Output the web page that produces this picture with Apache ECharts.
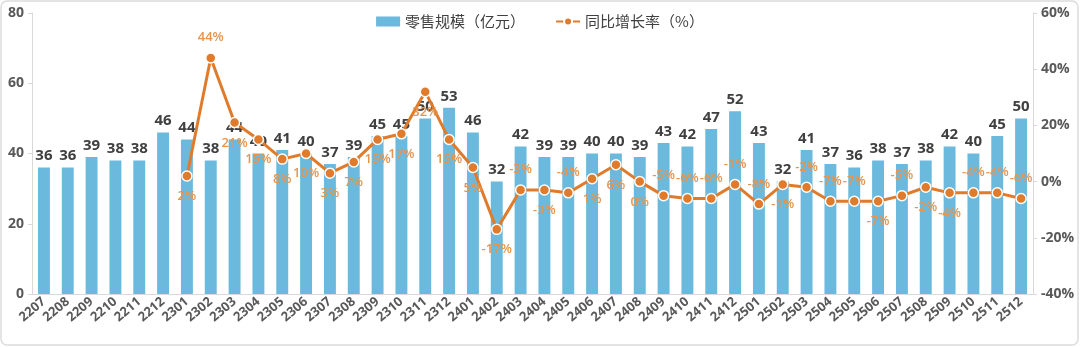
<!DOCTYPE html>
<html><head><meta charset="utf-8">
<script src="https://cdn.jsdelivr.net/npm/echarts@6/dist/echarts.min.js"></script>
<style>html,body{margin:0;padding:0;background:#fff}#c{width:1080px;height:347px}</style>
</head><body><div id="c"></div>
<script>
const categories = ['2207','2208','2209','2210','2211','2212','2301','2302','2303','2304','2305','2306','2307','2308','2309','2310','2311','2312','2401','2402','2403','2404','2405','2406','2407','2408','2409','2410','2411','2412','2501','2502','2503','2504','2505','2506','2507','2508','2509','2510','2511','2512'];
const retailScale = [36,36,39,38,38,46,44,38,44,40,41,40,37,39,45,45,50,53,46,32,42,39,39,40,40,39,43,42,47,52,43,32,41,37,36,38,37,38,42,40,45,50];
const yoyGrowth = [null,null,null,null,null,null,2,44,21,15,8,10,3,7,15,17,32,15,5,-17,-3,-3,-4,1,6,0,-5,-6,-6,-1,-8,-1,-2,-7,-7,-7,-5,-2,-4,-4,-4,-6];
const leftTicks = [0,20,40,60,80];
const rightTicks = [-40,-20,0,20,40,60];
// label placement for growth labels (layout only)
const growthLabelPos = ['bottom','bottom','bottom','bottom','bottom','bottom','bottom','top','bottom','bottom','bottom','bottom','bottom','bottom','bottom','bottom','bottom','bottom','bottom','bottom','top','bottom','top','bottom','bottom','bottom','top','top','top','top','top','bottom','top','top','top','bottom','top','bottom','bottom','top','top','top'];

const chart = echarts.init(document.getElementById('c'));
chart.setOption({
  backgroundColor: '#fff',
  graphic: [{type:'rect', shape:{x:1,y:1,width:1077,height:344,r:6}, style:{fill:'none',stroke:'#dcdcdc',lineWidth:1.5}, silent:true}],
  legend: {
    top: 9, left: 'center', itemGap: 30,
    textStyle: {fontFamily:'Noto Sans CJK SC', fontSize: 15, color:'#404040'},
    data: [
      {name:'零售规模（亿元）', icon:'rect', itemStyle:{color:'#6bb9dc'}},
      {name:'同比增长率（%）'}
    ],
    itemWidth: 24, itemHeight: 10
  },
  grid: {left: 32, right: 47, top: 13, bottom: 53},
  xAxis: {
    type:'category', data: categories,
    axisLine:{lineStyle:{color:'#d9d9d9'}}, axisTick:{show:false},
    axisLabel:{rotate:40, interval:0, color:'#595959', fontSize:13, fontWeight:'bold', fontFamily:'Open Sans', margin:6}
  },
  yAxis: [
    {type:'value', min:0, max:80, interval:20,
     axisLine:{show:true, lineStyle:{color:'#d9d9d9'}}, axisTick:{show:true, length:4, lineStyle:{color:'#d9d9d9'}}, splitLine:{show:false},
     axisLabel:{color:'#595959', fontSize:14, fontWeight:'bold', fontFamily:'Open Sans', margin:8, formatter:v=>leftTicks.includes(v)?String(v):''}},
    {type:'value', min:-40, max:60, interval:20,
     axisLine:{show:true, lineStyle:{color:'#d9d9d9'}}, axisTick:{show:true, length:4, lineStyle:{color:'#d9d9d9'}}, splitLine:{show:false},
     axisLabel:{color:'#595959', fontSize:14, fontWeight:'bold', fontFamily:'Open Sans', margin:8, formatter:v=>rightTicks.includes(v)?v+'%':''}}
  ],
  series: [
    {name:'零售规模（亿元）', type:'bar', data: retailScale, barWidth:'50%',
     itemStyle:{color:'#6bb9dc'},
     label:{show:true, position:'top', color:'#404040', fontSize:15, fontWeight:'bold', fontFamily:'Open Sans', distance:4}},
    {name:'同比增长率（%）', type:'line', yAxisIndex:1,
     data: yoyGrowth.map((v,i)=>v===null?null:{value:v, label:{position:growthLabelPos[i]}}),
     lineStyle:{color:'#e07b2b', width:3}, itemStyle:{color:'#e07b2b', borderColor:'#fff', borderWidth:1.5},
     symbol:'circle', symbolSize:10,
     label:{show:true, color:'#e5954f', fontSize:13, fontWeight:600, fontFamily:'Open Sans', distance:8, formatter:p=>p.value+'%'}}
  ]
});
</script></body></html>
